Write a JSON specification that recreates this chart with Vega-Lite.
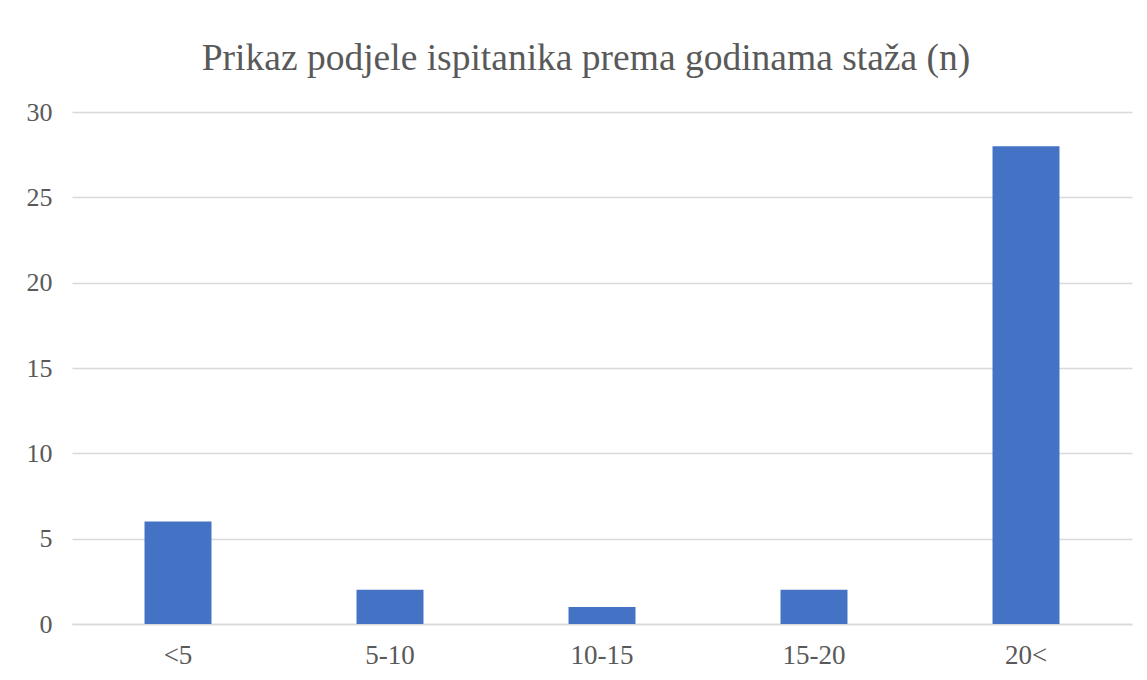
{
  "$schema": "https://vega.github.io/schema/vega-lite/v6.json",
  "width": 1060,
  "height": 512,
  "autosize": {"type": "none"},
  "padding": {"left": 72, "top": 112, "right": 15, "bottom": 56},
  "background": "white",
  "title": {
    "text": "Prikaz podjele ispitanika prema godinama staža (n)",
    "font": "Liberation Serif",
    "fontSize": 37.5,
    "fontWeight": "normal",
    "color": "#595959",
    "anchor": "middle",
    "dx": -16,
    "offset": 22
  },
  "data": {
    "values": [
      {"staz": "<5", "n": 6},
      {"staz": "5-10", "n": 2},
      {"staz": "10-15", "n": 1},
      {"staz": "15-20", "n": 2},
      {"staz": "20<", "n": 28}
    ]
  },
  "mark": {"type": "bar", "color": "#4472C4"},
  "encoding": {
    "x": {
      "field": "staz",
      "type": "nominal",
      "sort": null,
      "scale": {"paddingInner": 0.684, "paddingOuter": 0.342},
      "axis": {
        "title": null,
        "labelAngle": 0,
        "ticks": false,
        "domain": true,
        "domainColor": "#d9d9d9",
        "domainWidth": 1.5,
        "labelFont": "Liberation Serif",
        "labelFontSize": 27,
        "labelColor": "#595959",
        "labelPadding": 18
      }
    },
    "y": {
      "field": "n",
      "type": "quantitative",
      "scale": {"domain": [0, 30]},
      "axis": {
        "title": null,
        "values": [0, 5, 10, 15, 20, 25, 30],
        "ticks": false,
        "domain": false,
        "gridColor": "#d9d9d9",
        "gridWidth": 1.5,
        "labelFont": "Liberation Serif",
        "labelFontSize": 26,
        "labelColor": "#595959",
        "labelPadding": 20
      }
    }
  },
  "config": {"view": {"stroke": null}}
}
